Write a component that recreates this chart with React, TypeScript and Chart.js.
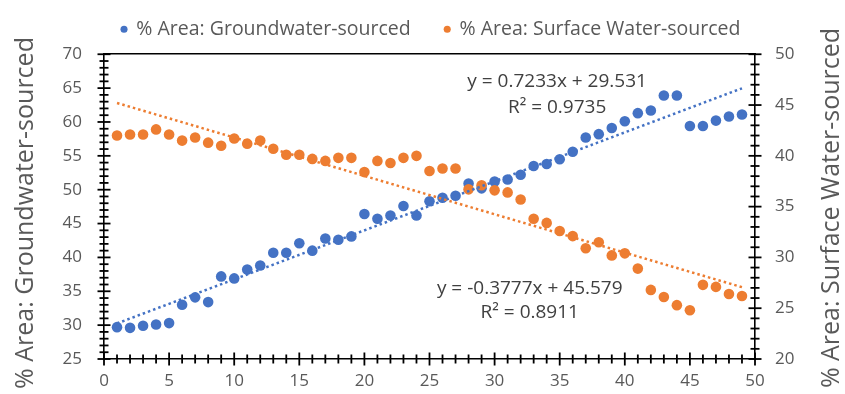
import React, { useEffect, useRef } from 'react';
import { Chart, registerables } from 'chart.js';

Chart.register(...registerables);

// ---------- data ----------
const periods = [1, 2, 3, 4, 5, 6, 7, 8, 9, 10, 11, 12, 13, 14, 15, 16, 17, 18, 19, 20, 21, 22, 23, 24, 25, 26, 27, 28, 29, 30, 31, 32, 33, 34, 35, 36, 37, 38, 39, 40, 41, 42, 43, 44, 45, 46, 47, 48, 49];

const groundwaterPct = [29.7, 29.6, 29.9, 30.1, 30.3, 33.0, 34.1, 33.4, 37.2, 36.9, 38.2, 38.8, 40.7, 40.7, 42.1, 41.0, 42.8, 42.6, 43.1, 46.4, 45.7, 46.2, 47.6, 46.2, 48.3, 48.8, 49.1, 50.9, 50.2, 51.2, 51.5, 52.2, 53.5, 53.8, 54.5, 55.6, 57.7, 58.2, 59.1, 60.1, 61.3, 61.7, 63.9, 63.9, 59.4, 59.4, 60.2, 60.8, 61.1];

const surfacePct = [42.0, 42.1, 42.1, 42.6, 42.1, 41.5, 41.8, 41.3, 41.0, 41.7, 41.2, 41.5, 40.7, 40.1, 40.1, 39.7, 39.5, 39.8, 39.8, 38.4, 39.5, 39.3, 39.8, 40.0, 38.5, 38.75, 38.75, 36.7, 37.1, 36.6, 36.4, 35.7, 33.8, 33.4, 32.6, 32.1, 30.9, 31.5, 30.2, 30.4, 28.9, 26.8, 26.1, 25.3, 24.8, 27.3, 27.1, 26.4, 26.2];

// trendline coefficients as printed on the chart
const gwTrendCoef = [0.7233, 29.531];
const swTrendCoef = [-0.3777, 45.579];

const seriesLabels = ['% Area: Groundwater-sourced', '% Area: Surface Water-sourced'];
const axisTitles = ['% Area: Groundwater-sourced', '% Area: Surface Water-sourced'];
const gwEquationText = ['y = 0.7233x + 29.531', 'R\u00B2 = 0.9735'];
const swEquationText = ['y = -0.3777x + 45.579', 'R\u00B2 = 0.8911'];

const xRange = [0, 50];
const leftRange = [25, 70];
const rightRange = [20, 50];
const labelEvery = 5;

// tick-mark positions (every unit) on each axis
const xTickValues = [0, 1, 2, 3, 4, 5, 6, 7, 8, 9, 10, 11, 12, 13, 14, 15, 16, 17, 18, 19, 20, 21, 22, 23, 24, 25, 26, 27, 28, 29, 30, 31, 32, 33, 34, 35, 36, 37, 38, 39, 40, 41, 42, 43, 44, 45, 46, 47, 48, 49, 50];
const leftTickValues = [25, 26, 27, 28, 29, 30, 31, 32, 33, 34, 35, 36, 37, 38, 39, 40, 41, 42, 43, 44, 45, 46, 47, 48, 49, 50, 51, 52, 53, 54, 55, 56, 57, 58, 59, 60, 61, 62, 63, 64, 65, 66, 67, 68, 69, 70];
const rightTickValues = [20, 21, 22, 23, 24, 25, 26, 27, 28, 29, 30, 31, 32, 33, 34, 35, 36, 37, 38, 39, 40, 41, 42, 43, 44, 45, 46, 47, 48, 49, 50];

// ---------- styles ----------
const FONT = "'Open Sans', sans-serif";
const BLUE = '#4472C4';
const ORANGE = '#ED7D31';
const TEXT = '#595959';
const ANN_TEXT = '#404040';
const AXIS = '#000000';

const textPlugin = {
  id: 'textDecor',
  afterDraw(chart: any) {
    const ctx = chart.ctx as CanvasRenderingContext2D;
    const sx = chart.scales.x;
    const sy = chart.scales.y;
    const sy1 = chart.scales.y1;
    ctx.save();
    ctx.fillStyle = TEXT;
    ctx.font = `25px ${FONT}`;
    ctx.textAlign = 'center';
    ctx.textBaseline = 'middle';
    ctx.save();
    ctx.translate(26, 213);
    ctx.rotate(-Math.PI / 2);
    ctx.fillText(axisTitles[0], 0, 0);
    ctx.restore();
    ctx.save();
    ctx.translate(832, 208);
    ctx.rotate(-Math.PI / 2);
    ctx.fillText(axisTitles[1], 0, 0);
    ctx.restore();
    ctx.fillStyle = ANN_TEXT;
    ctx.font = `19px ${FONT}`;
    const gx = sx.getPixelForValue(34.8);
    ctx.fillText(gwEquationText[0], gx, sy.getPixelForValue(65.9));
    ctx.fillText(gwEquationText[1], gx, sy.getPixelForValue(62.05));
    const ox = sx.getPixelForValue(32.7);
    ctx.fillText(swEquationText[0], ox, sy1.getPixelForValue(26.98));
    ctx.fillText(swEquationText[1], ox, sy1.getPixelForValue(24.55));
    ctx.restore();
  },
};

const tickFont = { family: FONT, size: 17 };

// a dataset of short line markers used as axis tick marks
function tickMarks(points: any[], axisId: string, rotation: number, isMajor: (p: any) => boolean) {
  return {
    label: 'ticks',
    data: points,
    yAxisID: axisId,
    pointStyle: 'line',
    rotation,
    borderColor: AXIS,
    backgroundColor: AXIS,
    borderWidth: 1.8,
    pointRadius: (c: any) => (c.raw && isMajor(c.raw) ? 6.5 : 4.5),
    clip: false,
    showLine: false,
    order: -1,
  };
}

export default function App() {
  const ref = useRef<HTMLCanvasElement | null>(null);

  useEffect(() => {
    if (!ref.current) return;
    const first = periods[0];
    const last = periods[periods.length - 1];
    const chart = new Chart(ref.current, {
      type: 'scatter',
      data: {
        datasets: [
          {
            label: seriesLabels[0],
            data: periods.map((p, i) => ({ x: p, y: groundwaterPct[i] })),
            backgroundColor: BLUE,
            borderColor: BLUE,
            borderWidth: 0,
            pointRadius: 5.3,
            yAxisID: 'y',
            order: 3,
          },
          {
            label: seriesLabels[1],
            data: periods.map((p, i) => ({ x: p, y: surfacePct[i] })),
            backgroundColor: ORANGE,
            borderColor: ORANGE,
            borderWidth: 0,
            pointRadius: 5.3,
            yAxisID: 'y1',
            order: 2,
          },
          {
            label: 'gw trend',
            data: [
              { x: first, y: gwTrendCoef[0] * first + gwTrendCoef[1] },
              { x: last, y: gwTrendCoef[0] * last + gwTrendCoef[1] },
            ],
            showLine: true,
            borderColor: BLUE,
            borderWidth: 2.5,
            borderDash: [2.5, 3],
            pointRadius: 0,
            yAxisID: 'y',
            order: 1,
          },
          {
            label: 'sw trend',
            data: [
              { x: first, y: swTrendCoef[0] * first + swTrendCoef[1] },
              { x: last, y: swTrendCoef[0] * last + swTrendCoef[1] },
            ],
            showLine: true,
            borderColor: ORANGE,
            borderWidth: 2.5,
            borderDash: [2.5, 3],
            pointRadius: 0,
            yAxisID: 'y1',
            order: 0,
          },
          tickMarks(leftTickValues.map((v) => ({ x: xRange[0], y: v })), 'y', 0, (p) => p.y % labelEvery === 0),
          tickMarks(rightTickValues.map((v) => ({ x: xRange[1], y: v })), 'y1', 0, (p) => p.y % labelEvery === 0),
          tickMarks(xTickValues.map((v) => ({ x: v, y: leftRange[0] })), 'y', 90, (p) => p.x % labelEvery === 0),
        ],
      },
      options: {
        responsive: false,
        animation: false,
        devicePixelRatio: 1,
        layout: { padding: { left: 17, right: 0, top: -14.5, bottom: 0 } },
        plugins: {
          tooltip: { enabled: false },
          legend: {
            display: true,
            position: 'top',
            labels: {
              usePointStyle: true,
              pointStyle: 'circle',
              boxWidth: 5,
              boxHeight: 5,
              padding: 34,
              color: TEXT,
              font: { family: FONT, size: 19.5 },
              filter: (item: any) => item.datasetIndex < 2,
              sort: (a: any, b: any) => a.datasetIndex - b.datasetIndex,
            },
          },
        },
        scales: {
          x: {
            type: 'linear',
            position: 'bottom',
            min: xRange[0],
            max: xRange[1],
            afterFit: (s: any) => { s.height = 35; },
            grid: { display: false, drawTicks: false },
            border: { display: true, color: AXIS, width: 1.6 },
            ticks: { stepSize: labelEvery, autoSkip: false, padding: 12, color: TEXT, font: tickFont, maxRotation: 0 },
          },
          xTop: {
            type: 'linear',
            position: 'top',
            display: true,
            min: xRange[0],
            max: xRange[1],
            afterFit: (s: any) => { s.height = 5.25; },
            grid: { display: false, drawTicks: false },
            border: { display: true, color: AXIS, width: 1.6 },
            ticks: { display: false },
          },
          y: {
            type: 'linear',
            position: 'left',
            min: leftRange[0],
            max: leftRange[1],
            afterFit: (s: any) => { s.width = 87; },
            grid: { display: false, drawTicks: false },
            border: { display: true, color: AXIS, width: 1.6 },
            ticks: { stepSize: labelEvery, autoSkip: false, padding: 22, color: TEXT, font: tickFont },
          },
          y1: {
            type: 'linear',
            position: 'right',
            min: rightRange[0],
            max: rightRange[1],
            afterFit: (s: any) => { s.width = 90; },
            grid: { display: false, drawTicks: false },
            border: { display: true, color: AXIS, width: 1.6 },
            ticks: { stepSize: labelEvery, autoSkip: false, padding: 20, color: TEXT, font: tickFont },
          },
        },
      },
      plugins: [textPlugin],
    } as any);
    return () => chart.destroy();
  }, []);

  return (
    <div style={{ position: 'absolute', left: 0, top: 0, width: 845, height: 394, background: '#fff' }}>
      <canvas ref={ref} width={845} height={394} style={{ display: 'block' }} />
    </div>
  );
}
